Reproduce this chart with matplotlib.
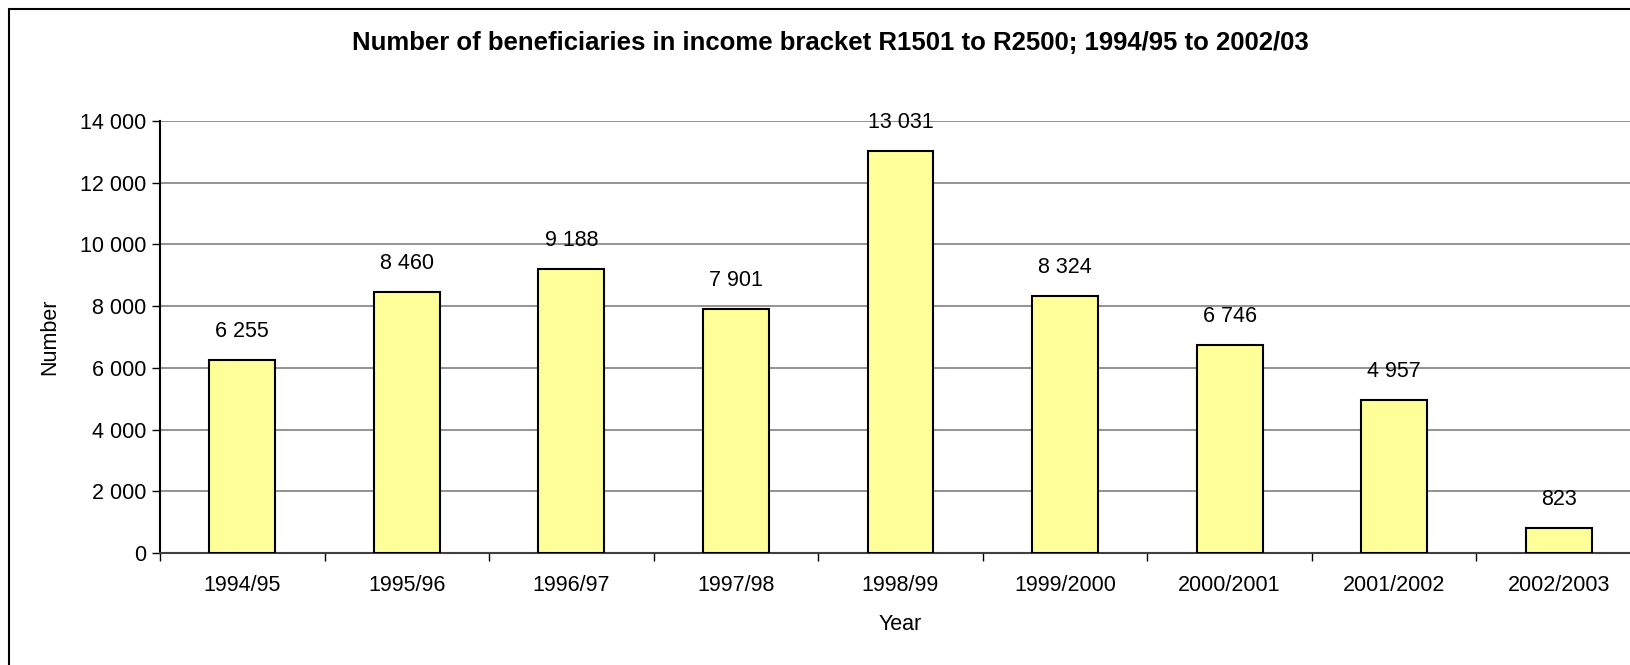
import matplotlib
matplotlib.use("Agg")
import matplotlib.pyplot as plt
from matplotlib.patches import Rectangle
from matplotlib.ticker import FixedLocator, FuncFormatter

plt.rcParams['font.family'] = ['Liberation Sans', 'DejaVu Sans']

years = ["1994/95", "1995/96", "1996/97", "1997/98", "1998/99",
         "1999/2000", "2000/2001", "2001/2002", "2002/2003"]
beneficiaries = [6255, 8460, 9188, 7901, 13031, 8324, 6746, 4957, 823]
y_ticks = [0, 2000, 4000, 6000, 8000, 10000, 12000, 14000]


def spaced(v, pos=None):
    # thousands separated by a space
    return f"{int(v):,}".replace(",", " ")


fig = plt.figure(figsize=(16.31, 6.65), dpi=100)
ax = fig.add_axes([160 / 1631, 1 - 553 / 665, 1481 / 1631, 432 / 665])

x = range(len(years))
ax.bar(x, beneficiaries, width=0.4, color="#FFFF99", edgecolor="black",
       linewidth=1.5, zorder=3)

for xi, v in zip(x, beneficiaries):
    ax.annotate(spaced(v), (xi, v), xytext=(0, 13), textcoords="offset points",
                ha="center", va="bottom", fontsize=15.5, zorder=4)

ax.set_xlim(-0.5, len(years) - 0.5)
ax.set_ylim(0, 14000)
ax.yaxis.set_major_locator(FixedLocator(y_ticks))
ax.yaxis.set_major_formatter(FuncFormatter(spaced))
ax.grid(axis="y", color="#808080", linewidth=1.2, zorder=0)

ax.set_xticks(list(x))
ax.set_xticklabels(years)
ax.xaxis.set_minor_locator(FixedLocator([i + 0.5 for i in range(-1, len(years))]))
ax.tick_params(axis="x", which="major", length=0, pad=16, labelsize=15.5)
ax.tick_params(axis="x", which="minor", length=6, width=1, color="black")
ax.tick_params(axis="y", length=6, width=1, pad=4, labelsize=15.5)

for side in ["top", "right"]:
    ax.spines[side].set_visible(False)
ax.spines["left"].set_linewidth(1.5)
ax.spines["bottom"].set_linewidth(1.5)
ax.spines["bottom"].set_color("#404040")

ax.set_xlabel("Year", fontsize=15.5, labelpad=13)
ax.set_ylabel("Number", fontsize=15.5, labelpad=14)

fig.text(830 / 1631, 1 - 43 / 665,
         "Number of beneficiaries in income bracket R1501 to R2500; 1994/95 to 2002/03",
         ha="center", va="center", fontsize=18.5, fontweight="bold")

# chart frame, running off the right and bottom edges
frame = Rectangle((9 / 1631, -0.1), 1.2, 1 - 9 / 665 + 0.1,
                  transform=fig.transFigure, fill=False,
                  edgecolor="black", linewidth=1.5, clip_on=False)
fig.patches.append(frame)

fig.savefig("out.png", dpi=100)
